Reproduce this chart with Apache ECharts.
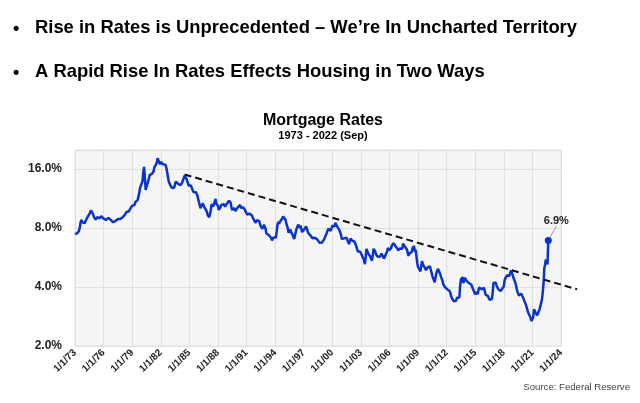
<!DOCTYPE html>
<html>
<head>
<meta charset="utf-8">
<script src="https://cdn.jsdelivr.net/npm/echarts@6/dist/echarts.min.js"></script>
<style>
html,body{margin:0;padding:0;background:#fff;}
#chart{width:640px;height:403px;}
</style>
</head>
<body>
<div id="chart"></div>
<script>
// Monthly 30-yr mortgage rates (%), starting Jan 1973
var startYear = 1973;
var rates1970s = [
  7.44,7.44,7.46,7.54,7.65,7.73,8.05,8.50,8.82,8.57,8.58,8.54,
  8.46,8.41,8.58,8.97,9.09,9.28,9.36,9.55,9.85,9.73,9.55,9.43,
  9.10,8.89,8.82,8.96,9.09,8.99,8.93,8.97,9.12,9.19,9.12,9.09,
  8.92,8.73,8.79,8.79,8.85,8.98,9.01,8.99,8.89,8.80,8.72,8.61,
  8.56,8.61,8.64,8.69,8.81,8.82,8.88,8.87,8.86,8.90,8.93,8.98,
  9.07,9.17,9.26,9.38,9.50,9.66,9.76,9.72,9.74,9.83,10.10,10.26,
  10.38,10.46,10.43,10.49,10.84,11.04,11.09,11.13,11.29,12.12,12.84,12.72
];
var rates1980s = [
  12.93,13.86,15.42,16.40,14.35,12.50,12.41,12.78,13.78,14.31,14.88,15.05,
  14.90,15.13,15.40,15.58,16.40,16.70,16.83,17.29,18.16,18.45,17.83,16.92,
  17.40,17.60,17.16,16.89,16.68,16.70,16.82,16.27,15.43,14.61,13.83,13.62,
  13.25,13.04,12.80,12.78,12.63,12.87,13.42,13.81,13.73,13.54,13.44,13.42,
  13.37,13.23,13.39,13.65,13.94,14.42,14.80,14.47,14.35,14.13,13.64,13.18,
  13.08,12.92,13.17,13.20,12.91,12.22,12.03,12.19,12.19,12.14,11.78,11.26,
  10.88,10.71,10.08,9.94,10.14,10.68,10.51,10.20,10.01,9.98,9.70,9.31,
  9.20,9.08,9.04,9.83,10.60,10.54,10.28,10.33,10.89,11.26,10.65,10.64,
  10.38,9.89,9.93,10.20,10.46,10.46,10.43,10.60,10.48,10.30,10.27,10.61,
  10.73,10.65,11.03,11.05,10.77,10.20,9.88,9.99,10.13,9.95,9.77,9.74
];
var rates1990s = [
  9.90,10.20,10.27,10.37,10.48,10.16,10.04,10.10,10.18,10.18,9.90,9.67,
  9.64,9.37,9.50,9.49,9.47,9.62,9.58,9.24,9.01,8.86,8.71,8.50,
  8.43,8.76,8.94,8.85,8.67,8.51,8.13,7.98,7.92,8.09,8.31,8.22,
  7.92,7.50,7.46,7.46,7.37,7.40,7.21,7.11,6.91,6.80,7.16,7.17,
  7.06,7.15,7.68,8.32,8.60,8.40,8.61,8.51,8.64,8.93,9.17,9.20,
  9.15,8.83,8.46,8.32,7.96,7.57,7.61,7.86,7.64,7.48,7.38,7.20,
  7.03,7.08,7.62,7.93,8.07,8.32,8.25,8.00,8.23,7.92,7.62,7.60,
  7.82,7.65,7.90,8.14,7.94,7.69,7.50,7.48,7.43,7.29,7.21,7.10,
  6.99,7.04,7.13,7.14,7.14,7.00,6.95,6.92,6.72,6.71,6.87,6.74,
  6.79,6.81,7.04,6.92,7.15,7.55,7.63,7.94,7.82,7.85,7.74,7.91
];
var rates2000s = [
  8.21,8.33,8.24,8.15,8.52,8.29,8.15,8.03,7.91,7.80,7.75,7.38,
  7.03,7.05,6.95,7.08,7.15,7.16,7.13,6.95,6.82,6.62,6.66,7.07,
  7.00,6.89,7.01,6.99,6.81,6.65,6.49,6.29,6.09,6.11,6.07,6.05,
  5.92,5.84,5.75,5.81,5.48,5.23,5.63,6.26,6.15,5.95,5.93,5.88,
  5.71,5.64,5.45,5.83,6.27,6.29,6.06,5.87,5.75,5.72,5.73,5.75,
  5.71,5.63,5.93,5.86,5.72,5.58,5.70,5.82,5.77,6.07,6.33,6.27,
  6.15,6.25,6.32,6.51,6.60,6.68,6.76,6.52,6.40,6.36,6.24,6.14,
  6.22,6.29,6.16,6.18,6.26,6.66,6.70,6.57,6.38,6.38,6.21,6.10,
  5.76,5.92,5.97,5.92,6.04,6.32,6.43,6.48,6.04,6.20,6.09,5.29,
  5.06,5.13,5.00,4.81,4.86,5.42,5.22,5.19,5.06,4.95,4.88,4.93
];
var rates2010s = [
  5.03,4.99,4.97,5.10,4.89,4.74,4.56,4.43,4.35,4.23,4.30,4.71,
  4.76,4.95,4.84,4.84,4.64,4.51,4.55,4.27,4.11,4.07,3.99,3.96,
  3.92,3.89,3.95,3.91,3.80,3.68,3.55,3.60,3.50,3.38,3.35,3.35,
  3.41,3.53,3.57,3.45,3.54,4.07,4.37,4.46,4.49,4.19,4.26,4.46,
  4.43,4.30,4.34,4.34,4.19,4.16,4.13,4.12,4.16,3.92,4.00,3.86,
  3.67,3.71,3.77,3.67,3.84,3.98,4.05,3.91,3.89,3.80,3.94,3.96,
  3.87,3.66,3.69,3.61,3.60,3.57,3.44,3.44,3.46,3.47,3.77,4.20,
  4.15,4.17,4.20,4.05,4.01,3.90,3.97,3.88,3.81,3.90,3.92,3.95,
  4.03,4.33,4.44,4.47,4.59,4.57,4.53,4.55,4.63,4.86,4.87,4.64,
  4.46,4.37,4.27,4.14,4.07,3.80,3.77,3.62,3.61,3.69,3.70,3.72
];
var rates2020s = [
  3.62,3.47,3.45,3.31,3.23,3.16,3.02,2.94,2.89,2.83,2.77,2.68,
  2.66,2.81,3.08,3.06,2.96,2.98,2.87,2.84,2.90,3.07,3.07,3.10,
  3.45,3.76,4.17,4.98,5.23,5.52,5.41,5.22,6.90
];
var lastLabel = '6.9%';
// Trend line (two end points: year, rate)
var trendYears = [1984.5, 2025.7];
var trendRates = [15.0, 3.89];
// Axis ticks
var yTicks = [2, 4, 8, 16];
var yMax = 20;
var xSpanYears = 51;   // 1/1/73 .. 1/1/24, labelled every 3 years
var xStepYears = 3;

var allRates = [].concat(rates1970s, rates1980s, rates1990s, rates2000s, rates2010s, rates2020s);
var lineData = allRates.map(function (r, i) {
  var pt = { value: [i / 12, r] };
  if (i === allRates.length - 1) {
    pt.symbol = 'circle';
    pt.symbolSize = 7;
    pt.label = { show: true, formatter: lastLabel };
    pt.labelLine = { show: true };
  }
  return pt;
});
var trendData = trendYears.map(function (y, i) { return [y - startYear, trendRates[i]]; });

var chart = echarts.init(document.getElementById('chart'), null, { renderer: 'canvas' });
var FONT = '"Liberation Sans", Arial, sans-serif';
var gridW = 486;
var trendSpan = 53;
chart.setOption({
  animation: false,
  backgroundColor: '#ffffff',
  graphic: [
    { type: 'text', left: 13, top: 20, style: { text: '•', font: 'bold 18px ' + FONT, fill: '#000' } },
    { type: 'text', left: 35, top: 19, style: { text: 'Rise in Rates is Unprecedented – We’re In Uncharted Territory', font: 'bold 18.4px ' + FONT, fill: '#000' } },
    { type: 'text', left: 13, top: 64, style: { text: '•', font: 'bold 18px ' + FONT, fill: '#000' } },
    { type: 'text', left: 35, top: 63, style: { text: 'A Rapid Rise In Rates Effects Housing in Two Ways', font: 'bold 18.4px ' + FONT, fill: '#000' } },
    { type: 'text', right: 10, top: 382, style: { text: 'Source: Federal Reserve', font: '9.6px ' + FONT, fill: '#444' } }
  ],
  title: {
    text: 'Mortgage Rates',
    subtext: '1973 - 2022 (Sep)',
    left: 318,
    textAlign: 'center',
    top: 108,
    itemGap: 1,
    textStyle: { fontFamily: FONT, fontWeight: 'bold', fontSize: 16, color: '#000' },
    subtextStyle: { fontFamily: FONT, fontWeight: 'bold', fontSize: 11, color: '#000' }
  },
  grid: [
    {
      left: 75, width: gridW, top: 150, bottom: 57,
      show: true, backgroundColor: '#f5f5f5', borderColor: '#e4e4e4', borderWidth: 1
    },
    { left: 75, width: gridW * trendSpan / xSpanYears, top: 150, bottom: 57, show: false }
  ],
  xAxis: [
    {
      type: 'value', min: 0, max: xSpanYears, interval: xStepYears, gridIndex: 0,
      axisLine: { show: true, lineStyle: { color: '#e0e0e0' } },
      axisTick: { show: false },
      splitLine: { show: true, lineStyle: { color: '#e0e0e0', width: 1 } },
      axisLabel: {
        rotate: 45, margin: 5,
        fontFamily: FONT, fontWeight: 'bold', fontSize: 10, color: '#222',
        formatter: function (v) {
          var y = startYear + Math.round(v);
          return '1/1/' + String(y % 100).padStart(2, '0');
        }
      }
    },
    { type: 'value', min: 0, max: trendSpan, gridIndex: 1, show: false }
  ],
  yAxis: [
    {
      type: 'log', logBase: 2, min: yTicks[0], max: yMax, interval: 1, gridIndex: 0,
      axisLine: { show: false },
      axisTick: { show: false },
      splitLine: { show: true, lineStyle: { color: '#e0e0e0', width: 1 } },
      axisLabel: {
        showMaxLabel: false, margin: 13,
        fontFamily: FONT, fontWeight: 'bold', fontSize: 12, color: '#222',
        formatter: function (v) { return v.toFixed(1) + '%'; }
      }
    },
    { type: 'log', logBase: 2, min: yTicks[0], max: yMax, gridIndex: 1, show: false }
  ],
  series: [
    {
      type: 'line',
      xAxisIndex: 0, yAxisIndex: 0,
      data: lineData,
      symbol: 'none',
      lineStyle: { color: '#0a33cc', width: 2.5 },
      itemStyle: { color: '#0a33cc' },
      label: { fontFamily: FONT, fontSize: 11, fontWeight: 'bold', color: '#222' },
      labelLine: { lineStyle: { color: '#888', width: 0.8 } },
      labelLayout: function () {
        return { dx: 8, dy: -6 };
      },
      z: 3
    },
    {
      type: 'line',
      xAxisIndex: 1, yAxisIndex: 1,
      data: trendData,
      clip: false,
      symbol: 'none',
      lineStyle: { color: '#111', width: 2, type: [7, 4] },
      z: 4
    }
  ]
});
</script>
</body>
</html>
